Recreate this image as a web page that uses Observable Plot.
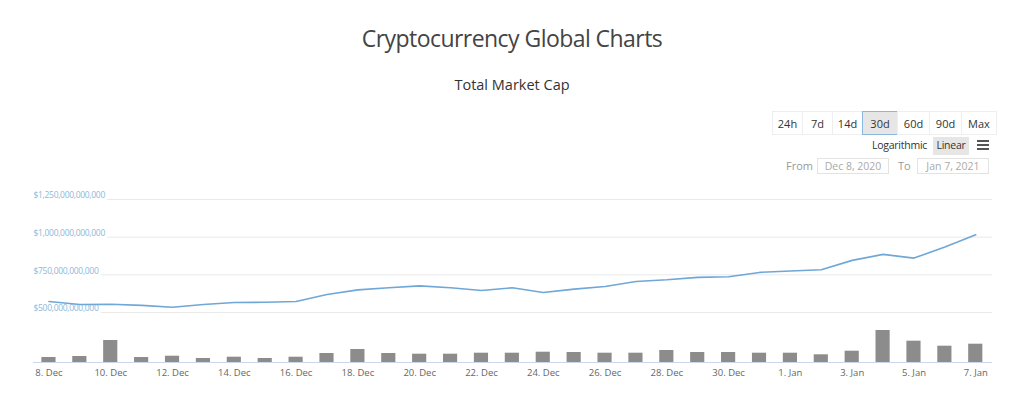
<!DOCTYPE html>
<html>
<head>
<meta charset="utf-8">
<script src="https://cdn.jsdelivr.net/npm/d3@7"></script>
<script src="https://cdn.jsdelivr.net/npm/@observablehq/plot@0.6"></script>
<style>
  html, body { margin: 0; padding: 0; background: #fff; }
  body { font-family: "Open Sans", "Noto Sans", sans-serif; }
  #wrap { position: relative; width: 1024px; height: 398px; overflow: hidden; }
  .abs { position: absolute; }
  #title { left: 0; width: 1024px; top: 22px; text-align: center; font-size: 23px; color: #444; letter-spacing: -0.55px; }
  #subtitle { left: 0; width: 1024px; top: 75px; text-align: center; font-size: 14.5px; color: #333; }
  .btn { top: 111px; height: 24px; line-height: 24px; text-align: center; font-size: 11px; color: #333;
         box-sizing: border-box; border: 1px solid #eeeeee; background: #fff; }
  .btn.sel { background: #e6e6e6; border: 1px solid #8ab8e0; }
  .lbl { font-size: 10.5px; color: #333; letter-spacing: -0.25px; }
  .gray { font-size: 11px; color: #999; }
  .inp { box-sizing: border-box; border: 1px solid #e3e3e3; height: 16px; line-height: 14px; font-size: 10.5px; color: #aaa; text-align: center; }
  .bar3 { position: absolute; left: 977px; width: 12px; height: 2px; background: #555; }
  #top { left: 0; top: 180px; }
  #bottom { left: 0; top: 320px; }
  .caplabels text { letter-spacing: -0.3px; }
</style>
</head>
<body>
<div id="wrap">
  <div id="title" class="abs">Cryptocurrency Global Charts</div>
  <div id="subtitle" class="abs">Total Market Cap</div>

  <div class="abs btn" style="left:772px;width:31px;">24h</div>
  <div class="abs btn" style="left:802px;width:31px;">7d</div>
  <div class="abs btn" style="left:832px;width:31px;">14d</div>
  <div class="abs btn sel" style="left:862px;width:36px;">30d</div>
  <div class="abs btn" style="left:897px;width:33px;">60d</div>
  <div class="abs btn" style="left:929px;width:33px;">90d</div>
  <div class="abs btn" style="left:961px;width:36px;">Max</div>

  <div class="abs lbl" style="left:872px;top:138px;">Logarithmic</div>
  <div class="abs lbl" style="left:933px;top:137px;width:36px;height:18px;line-height:17px;background:#e6e6e6;text-align:center;">Linear</div>
  <div class="bar3" style="top:140px;"></div>
  <div class="bar3" style="top:144px;"></div>
  <div class="bar3" style="top:148px;"></div>

  <div class="abs gray" style="left:786px;top:158px;">From</div>
  <div class="abs inp" style="left:817px;top:158px;width:72px;">Dec 8, 2020</div>
  <div class="abs gray" style="left:898px;top:158px;">To</div>
  <div class="abs inp" style="left:917px;top:158px;width:72px;">Jan 7, 2021</div>

  <div id="top" class="abs"></div>
  <div id="bottom" class="abs"></div>
</div>
<script>
// ---- data ----
const dates = [
  "2020-12-08","2020-12-09","2020-12-10","2020-12-11","2020-12-12","2020-12-13","2020-12-14",
  "2020-12-15","2020-12-16","2020-12-17","2020-12-18","2020-12-19","2020-12-20","2020-12-21",
  "2020-12-22","2020-12-23","2020-12-24","2020-12-25","2020-12-26","2020-12-27","2020-12-28",
  "2020-12-29","2020-12-30","2020-12-31","2021-01-01","2021-01-02","2021-01-03","2021-01-04",
  "2021-01-05","2021-01-06","2021-01-07"
];
// total market cap, billions USD
const marketCap = [
  573, 553, 555, 547, 535, 553, 566, 568, 573, 620, 650,
  664, 677, 664, 646, 664, 633, 655, 673, 706, 717,
  733, 737, 766, 775, 784, 846, 886, 861, 934, 1016
];
// 24h volume, billions USD (estimated)
const volume = [
  50, 60, 220, 50, 63, 40, 53, 40, 53, 90, 130,
  90, 83, 83, 93, 93, 103, 100, 93, 93, 120,
  100, 100, 93, 93, 77, 113, 320, 213, 163, 183
];
const capTicks = [500, 750, 1000, 1250];
const xTickLabels = ["8. Dec","10. Dec","12. Dec","14. Dec","16. Dec","18. Dec","20. Dec","22. Dec",
  "24. Dec","26. Dec","28. Dec","30. Dec","1. Jan","3. Jan","5. Jan","7. Jan"];

// ---- build ----
const parse = d3.utcParse("%Y-%m-%d");
const data = dates.map((d, i) => ({date: parse(d), cap: marketCap[i], vol: volume[i]}));
const first = data[0].date, last = data[data.length - 1].date;
const xDomain = [d3.utcHour.offset(first, -12), d3.utcHour.offset(last, 13)];
const fmtDate = d3.utcFormat("%-d. %b");
const xTicks = data.map(d => d.date).filter(d => xTickLabels.includes(fmtDate(d)));
const fmtCap = d3.format("$,.0f");

const topPlot = Plot.plot({
  width: 1024, height: 140,
  marginLeft: 33, marginRight: 32, marginTop: 19, marginBottom: 8,
  style: {fontFamily: "'Open Sans', sans-serif", background: "transparent", overflow: "visible"},
  x: {type: "utc", domain: xDomain, axis: null},
  y: {domain: [500, 1250], axis: null},
  marks: [
    Plot.ruleY(capTicks, {stroke: "#e9e9e9", strokeWidth: 1}),
    Plot.text(capTicks, {y: d => d, frameAnchor: "left", textAnchor: "start", dy: -4,
      text: d => fmtCap(d * 1e9), fill: "#8db8d8", stroke: "white", strokeWidth: 7,
      fontSize: 8.5, className: "caplabels"}),
    Plot.line(data, {x: "date", y: "cap", stroke: "#6fa7d7", strokeWidth: 1.6})
  ]
});
document.getElementById("top").appendChild(topPlot);

const bottomPlot = Plot.plot({
  width: 1024, height: 78,
  marginLeft: 33, marginRight: 32, marginTop: 2, marginBottom: 36,
  style: {fontFamily: "'Open Sans', sans-serif", background: "transparent", color: "#666", overflow: "visible"},
  x: {type: "utc", domain: xDomain},
  y: {domain: [0, 400], axis: null},
  marks: [
    Plot.rect(data, {x1: d => d3.utcMinute.offset(d.date, -330), x2: d => d3.utcMinute.offset(d.date, 330),
      y1: 0, y2: "vol", fill: "#8c8c8c"}),
    Plot.ruleY([0], {stroke: "#ccd6eb"}),
    Plot.axisX({ticks: xTicks, tickFormat: fmtDate, tickSize: 0, tickPadding: 7, fontSize: 9.5, fill: "#666"})
  ]
});
document.getElementById("bottom").appendChild(bottomPlot);
</script>
</body>
</html>
